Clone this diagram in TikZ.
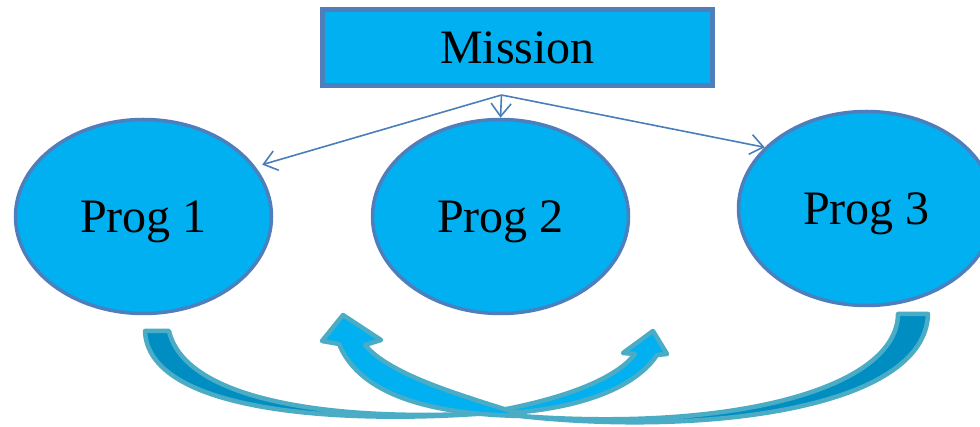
\documentclass[tikz,border=0pt]{standalone}
\usepackage{fontspec}
\setmainfont{Liberation Serif}
\usetikzlibrary{shapes.geometric,arrows.meta}
\definecolor{cyanfill}{HTML}{00B0F0}
\definecolor{boxborder}{HTML}{4F7EBD}
\definecolor{connblue}{HTML}{4A7EBB}
\definecolor{tealline}{HTML}{4BACC6}
\definecolor{darkfill}{HTML}{008EC2}
\begin{document}
\begin{tikzpicture}[x=1pt,y=-1pt,
  progbox/.style={ellipse, draw=boxborder, line width=3.5pt, fill=cyanfill,
    minimum width=256pt, minimum height=194pt, inner sep=0pt, text depth=0pt,
    font=\fontsize{48}{56}\selectfont},
  missionbox/.style={rectangle, draw=boxborder, line width=4.5pt, fill=cyanfill,
    minimum width=390pt, minimum height=76pt, inner sep=0pt, text depth=0pt,
    font=\fontsize{48}{56}\selectfont},
  conn/.style={draw=connblue, line width=1.6pt, -{Straight Barb[length=13pt,width=20pt]}},
  backpart/.style={fill=darkfill, draw=tealline, line width=4.5pt, line join=round},
  frontpart/.style={fill=cyanfill, draw=tealline, line width=4.5pt, line join=round}]
\clip (0,0) rectangle (980,427);
\node[missionbox] (m) at (517.5,47.5) {Mission};
\node[progbox] (p1) at (143.5,216.5) {Prog 1};
\node[progbox] (p2) at (500.5,216.5) {Prog 2};
\node[progbox] (p3) at (866.5,208.5) {Prog 3};
\coordinate (hub) at (501.5,95);
\draw[conn, shorten >=7pt] (hub) -- (p1.24);
\draw[conn] (hub) -- (p2.north);
\draw[conn] (hub) -- (p3.149);
% curved arrow from Prog 1
\path[backpart] (145,331) .. controls (148,410) and (330,425) .. (490,413)
  .. controls (330,422) and (185,400) .. (169,331) -- cycle;
\path[frontpart] (490,412) .. controls (560,400) and (615,380) .. (635,354)
  -- (623,353) -- (653,331) -- (667,354) -- (657,355)
  .. controls (630,395) and (560,412) .. (490,414) -- cycle;
% curved arrow from Prog 3
\path[backpart] (520,416) .. controls (700,436) and (925,410) .. (928,314)
  -- (898,314) .. controls (897,388) and (735,432) .. (520,416) -- cycle;
\path[frontpart] (520,414) .. controls (460,395) and (390,375) .. (365,345)
  -- (381,340) -- (343,315) -- (322,341) -- (339,344)
  .. controls (360,395) and (430,414) .. (520,416) -- cycle;
\end{tikzpicture}
\end{document}
